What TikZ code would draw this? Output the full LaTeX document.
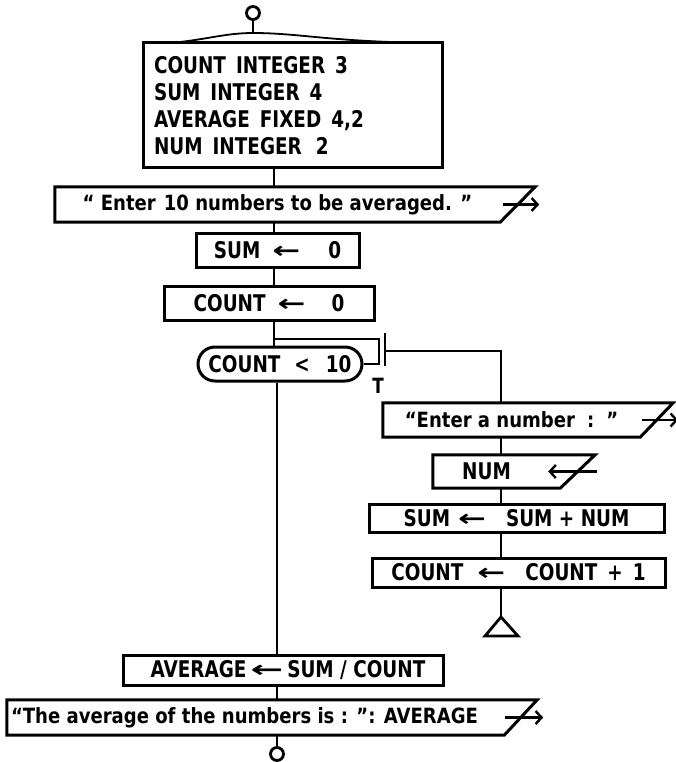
\documentclass[tikz,border=0pt]{standalone}
\usepackage{fontspec}
\usepackage{graphicx}
\usetikzlibrary{arrows.meta}
\newfontfamily\mixfont[FakeStretch=0.86]{DejaVu Sans}
\newfontfamily\capsfont[FakeStretch=0.8]{DejaVu Sans}
\newfontfamily\arrowfont{DejaVu Sans}
\newcommand\la{\scalebox{1.45}[1]{\arrowfont\bfseries ←}}
\newcommand\ws{\hspace{10pt}}
\tikzset{
  ln/.style={line width=2.8pt},
  proc/.style={draw, line width=3pt, inner sep=0pt, font=\capsfont\bfseries\fontsize{23}{27}\selectfont},
  io/.style={inner sep=0pt, font=\mixfont\bfseries\fontsize{21}{25}\selectfont},
  iobord/.style={line width=3pt},
  term/.style={circle, draw, line width=2.8pt, inner sep=0pt, minimum size=13pt},
  outarr/.style={line width=2.4pt, -{Straight Barb[length=6pt,width=13pt,line width=2.4pt]}},
  wavy/.style={line width=1.8pt}
}
\begin{document}
\begin{tikzpicture}[x=1pt,y=-1pt]
\useasboundingbox (0,0) rectangle (675,762);
% x positions of the flow lines
\coordinate (mxA) at (274,0);
\coordinate (mxB) at (277,0);
\coordinate (rx) at (501,0);

% start terminal and declaration block
\node[term] (start) at (253,13) {};
\coordinate (hump) at (253,33);
\node[proc, minimum width=299pt, minimum height=125pt, text width=277pt, inner xsep=11pt, align=left] (decl) at (292.5,105.5)
  {COUNT\ws INTEGER\ws 3\\SUM\ws INTEGER\ws 4\\AVERAGE\ws FIXED\ws 4,2\\NUM\ws INTEGER\hspace{14pt}2};
\draw[wavy] (170,43) .. controls (205,40) and (225,33) .. (hump) .. controls (300,33) and (330,42) .. (434,43);
\draw[ln] (start.south) -- (hump);

% output 1
\node[io, minimum width=445pt, minimum height=35pt] (out1) at (277.5,204.5)
  {“ Enter\hspace{8pt}10 numbers to be averaged. ”};
\draw[iobord] (out1.south west) -- (out1.north west) -- ([xshift=35pt]out1.north east) -- (out1.south east) -- cycle;
\draw[outarr] ([xshift=3pt]out1.east) -- ([xshift=39pt]out1.east);

% assignments
\node[proc, minimum width=163pt, minimum height=34pt] (s0) at (277.5,250)
  {SUM\hspace{12pt}\la\hspace{28pt}0};
\node[proc, minimum width=210pt, minimum height=34pt] (c0) at (269,303)
  {COUNT\hspace{12pt}\la\hspace{26pt}0};

% loop test
\node[proc, rounded corners=17pt, minimum width=164pt, minimum height=34pt] (test) at (280,364)
  {COUNT\hspace{14pt}<\hspace{16pt}10};
\coordinate (lpc) at (379,339);
\coordinate (barT) at (385,333);
\coordinate (barB) at (385,366);
\coordinate (barM) at (385,351);
\node[font=\capsfont\bfseries\fontsize{21}{24}\selectfont, inner sep=0pt] (tlab) at (378,386) {T};

% loop body
\node[io, minimum width=257pt, minimum height=34pt] (in1) at (511.5,420)
  {“Enter a number\hspace{12pt}:\hspace{12pt}”};
\draw[iobord] (in1.south west) -- (in1.north west) -- ([xshift=33pt]in1.north east) -- (in1.south east) -- cycle;
\draw[outarr] ([xshift=2pt]in1.east) -- ([xshift=38pt]in1.east);

\node[io, minimum width=127pt, minimum height=33pt] (num) at (496.5,471.5)
  {\capsfont\fontsize{23}{27}\selectfont NUM\hspace{20pt}\null};
\draw[iobord] (num.south west) -- (num.north west) -- ([xshift=35pt]num.north east) -- (num.south east) -- cycle;
\draw[outarr] ([xshift=37pt]num.east) -- ([xshift=-12pt]num.east);

\node[proc, minimum width=295pt, minimum height=28pt] (upd1) at (516.5,518)
  {SUM\hspace{8pt}\la\hspace{20pt}SUM + NUM};
\node[proc, minimum width=293pt, minimum height=29pt] (upd2) at (518.5,572.5)
  {COUNT\hspace{14pt}\la\hspace{20pt}COUNT\hspace{10pt}+\hspace{10pt}1};
\coordinate (tri) at (501,617);

% after loop
\node[proc, minimum width=320pt, minimum height=30pt] (avg) at (283,670)
  {\hspace{10pt}AVERAGE\hspace{4pt}\scalebox{1.7}[1]{\arrowfont\bfseries ←}\hspace{4pt}SUM / COUNT};
\node[io, minimum width=497pt, minimum height=35pt] (out2) at (255.5,717.5)
  {“The average of the numbers is : ”: AVERAGE\hspace{22pt}\null};
\draw[iobord] (out2.south west) -- (out2.north west) -- ([xshift=33pt]out2.north east) -- (out2.south east) -- cycle;
\draw[outarr] ([xshift=1pt]out2.east) -- ([xshift=39pt]out2.east);
\node[term, minimum size=13pt] (stop) at (277,754) {};

% connectors
\draw[ln] (decl.south -| mxA) -- (out1.north -| mxA);
\draw[ln] (out1.south -| mxA) -- (s0.north -| mxA);
\draw[ln] (s0.south -| mxA) -- (c0.north -| mxA);
\draw[ln] (c0.south -| mxA) -- (test.north -| mxA);
\draw[ln] (test.east) -| (lpc) -- (lpc -| mxA);
\draw[ln] (barT) -- (barB);
\draw[ln] (barM) -| (in1.north -| rx);
\draw[ln] (in1.south -| rx) -- (num.north -| rx);
\draw[ln] (num.south -| rx) -- (upd1.north -| rx);
\draw[ln] (upd1.south -| rx) -- (upd2.north -| rx);
\draw[ln] (upd2.south -| rx) -- (tri);
\draw[ln, line join=miter] (tri) -- ++(-16,19) -- ++(33,0) -- cycle;
\draw[ln] (test.south -| mxB) -- (avg.north -| mxB);
\draw[ln] (avg.south -| mxB) -- (out2.north -| mxB);
\draw[ln] (out2.south -| mxB) -- (stop.north);
\end{tikzpicture}
\end{document}
